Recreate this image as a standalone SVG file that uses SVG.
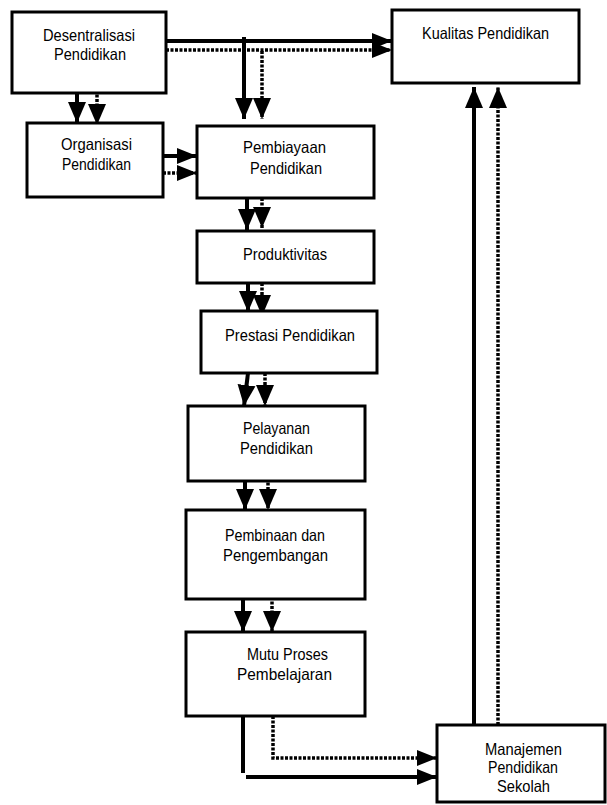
<svg xmlns="http://www.w3.org/2000/svg" width="607" height="805" viewBox="0 0 607 805">
  <style>
    .box { fill: #fff; stroke: #000; stroke-width: 3; }
    .lbl { font-family: "Liberation Sans", Arial, sans-serif; font-size: 16.5px; fill: #000; text-anchor: start; }
    .solid { fill: none; stroke: #000; stroke-width: 4; }
    .dot { fill: none; stroke: #000; stroke-width: 3.5; stroke-dasharray: 3 1.5; }
  </style>
  <defs>
    <marker id="head" markerUnits="userSpaceOnUse" markerWidth="22" markerHeight="20" refX="21" refY="10" orient="auto" viewBox="0 0 22 20">
      <path d="M0,1 L21,10 L0,19 Z" fill="#000"/>
    </marker>
    <marker id="headS" markerUnits="userSpaceOnUse" markerWidth="21" markerHeight="17" refX="20" refY="8.5" orient="auto" viewBox="0 0 21 17">
      <path d="M0,0.5 L20,8.5 L0,16.5 Z" fill="#000"/>
    </marker>
  </defs>

  <!-- connectors -->
  <g id="connectors">
    <!-- Desentralisasi -> Kualitas -->
    <path class="solid" d="M166,41 H392" marker-end="url(#headS)"/>
    <path class="dot" d="M166,50 H392" marker-end="url(#headS)"/>
    <!-- branch down to Pembiayaan -->
    <path class="solid" d="M244,37 V119" marker-end="url(#head)"/>
    <path class="dot" d="M262,51 V119" marker-end="url(#head)"/>
    <!-- Desentralisasi -> Organisasi -->
    <path class="solid" d="M77,93 V123" marker-end="url(#head)"/>
    <path class="dot" d="M97,90 V125" marker-end="url(#head)"/>
    <!-- Organisasi -> Pembiayaan -->
    <path class="solid" d="M163,156 H197" marker-end="url(#headS)"/>
    <path class="dot" d="M163,173 H197" marker-end="url(#headS)"/>
    <!-- Pembiayaan -> Produktivitas -->
    <path class="solid" d="M247,198 V230" marker-end="url(#head)"/>
    <path class="dot" d="M262,198 V228" marker-end="url(#head)"/>
    <!-- Produktivitas -> Prestasi -->
    <path class="solid" d="M248,283 V312" marker-end="url(#head)"/>
    <path class="dot" d="M262,283 V316" marker-end="url(#head)"/>
    <!-- Prestasi -> Pelayanan -->
    <path class="solid" d="M248,373 L244,406" marker-end="url(#head)"/>
    <path class="dot" d="M265,373 V406" marker-end="url(#head)"/>
    <!-- Pelayanan -> Pembinaan -->
    <path class="solid" d="M245,481 V510" marker-end="url(#head)"/>
    <path class="dot" d="M268,478 V510" marker-end="url(#head)"/>
    <!-- Pembinaan -> Mutu -->
    <path class="solid" d="M243,599 V632" marker-end="url(#head)"/>
    <path class="dot" d="M272,597 V632" marker-end="url(#head)"/>
    <!-- Mutu -> Manajemen -->
    <path class="solid" d="M243,716 V773"/>
    <path class="solid" d="M246,777 H437" marker-end="url(#headS)"/>
    <path class="dot" d="M273,716 V758 H437" marker-end="url(#headS)"/>
    <!-- Manajemen -> Kualitas -->
    <path class="solid" d="M474,725 V87" marker-end="url(#head)"/>
    <path class="dot" d="M498,725 V87" marker-end="url(#head)"/>
  </g>

  <g id="desentralisasi">
    <rect class="box" x="12" y="12" width="154" height="81"/>
    <text class="lbl" x="43" y="41" textLength="92" lengthAdjust="spacingAndGlyphs">Desentralisasi</text>
    <text class="lbl" x="54" y="60" textLength="72" lengthAdjust="spacingAndGlyphs">Pendidikan</text>
  </g>

  <g id="kualitas">
    <rect class="box" x="392" y="10" width="187" height="73"/>
    <text class="lbl" x="422" y="39" textLength="127" lengthAdjust="spacingAndGlyphs">Kualitas Pendidikan</text>
  </g>

  <g id="organisasi">
    <rect class="box" x="27" y="123" width="136" height="74"/>
    <text class="lbl" x="61" y="150" textLength="71" lengthAdjust="spacingAndGlyphs">Organisasi</text>
    <text class="lbl" x="62" y="170" textLength="69" lengthAdjust="spacingAndGlyphs">Pendidikan</text>
  </g>

  <g id="pembiayaan">
    <rect class="box" x="197" y="126" width="177" height="72"/>
    <text class="lbl" x="243" y="153" textLength="83" lengthAdjust="spacingAndGlyphs">Pembiayaan</text>
    <text class="lbl" x="250" y="174" textLength="72" lengthAdjust="spacingAndGlyphs">Pendidikan</text>
  </g>

  <g id="produktivitas">
    <rect class="box" x="197" y="231" width="177" height="52"/>
    <text class="lbl" x="243" y="260" textLength="84" lengthAdjust="spacingAndGlyphs">Produktivitas</text>
  </g>

  <g id="prestasi">
    <rect class="box" x="201" y="311" width="176" height="62"/>
    <text class="lbl" x="225" y="341" textLength="130" lengthAdjust="spacingAndGlyphs">Prestasi Pendidikan</text>
  </g>

  <g id="pelayanan">
    <rect class="box" x="188" y="406" width="177" height="75"/>
    <text class="lbl" x="243" y="434" textLength="67" lengthAdjust="spacingAndGlyphs">Pelayanan</text>
    <text class="lbl" x="240" y="454" textLength="73" lengthAdjust="spacingAndGlyphs">Pendidikan</text>
  </g>

  <g id="pembinaan">
    <rect class="box" x="186" y="510" width="179" height="89"/>
    <text class="lbl" x="225" y="541" textLength="100" lengthAdjust="spacingAndGlyphs">Pembinaan dan</text>
    <text class="lbl" x="223" y="561" textLength="105" lengthAdjust="spacingAndGlyphs">Pengembangan</text>
  </g>

  <g id="mutu">
    <rect class="box" x="186" y="632" width="179" height="84"/>
    <text class="lbl" x="247" y="660" textLength="81" lengthAdjust="spacingAndGlyphs">Mutu Proses</text>
    <text class="lbl" x="237" y="680" textLength="95" lengthAdjust="spacingAndGlyphs">Pembelajaran</text>
  </g>

  <g id="manajemen">
    <rect class="box" x="437" y="725" width="168" height="77"/>
    <text class="lbl" x="485" y="755" textLength="77" lengthAdjust="spacingAndGlyphs">Manajemen</text>
    <text class="lbl" x="488" y="773" textLength="70" lengthAdjust="spacingAndGlyphs">Pendidikan</text>
    <text class="lbl" x="497" y="792" textLength="53" lengthAdjust="spacingAndGlyphs">Sekolah</text>
  </g>
</svg>
